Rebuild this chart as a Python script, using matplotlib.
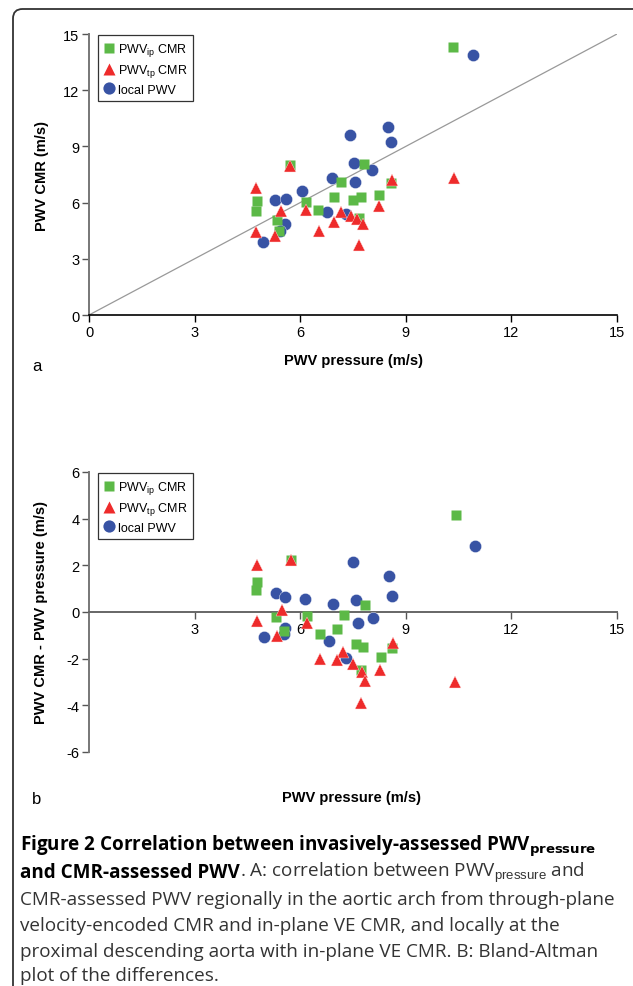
import matplotlib
matplotlib.use("Agg")
import matplotlib.pyplot as plt
from matplotlib.patches import FancyBboxPatch
from matplotlib.lines import Line2D

plt.rcParams['font.family'] = ['Liberation Sans', 'DejaVu Sans']
plt.rcParams['mathtext.fontset'] = 'custom'
plt.rcParams['mathtext.rm'] = 'Liberation Sans'
plt.rcParams['mathtext.it'] = 'Liberation Sans'
plt.rcParams['axes.unicode_minus'] = False

# ---------------- data: panel a ----------------
a_ip_x = [10.33, 5.71, 7.80, 7.16, 8.58, 4.76, 6.96, 7.49, 7.73, 8.24, 6.16, 6.50, 4.74, 5.34, 5.40, 7.67]
a_ip_y = [14.31, 8.01, 8.08, 7.12, 7.05, 6.10, 6.30, 6.16, 6.30, 6.41, 6.01, 5.62, 5.57, 5.07, 4.50, 5.16]
a_tp_x = [10.37, 5.71, 4.74, 8.60, 5.45, 6.16, 8.23, 7.15, 7.43, 7.60, 7.79, 6.97, 6.52, 4.74, 5.28, 7.67]
a_tp_y = [7.31, 7.97, 6.78, 7.22, 5.57, 5.61, 5.80, 5.48, 5.30, 5.13, 4.86, 4.95, 4.48, 4.41, 4.24, 3.74]
a_loc_x = [10.90, 8.49, 7.41, 8.58, 7.53, 8.03, 6.91, 7.57, 6.05, 5.29, 5.59, 6.77, 7.30, 5.58, 5.43, 4.94]
a_loc_y = [13.88, 10.02, 9.63, 9.25, 8.10, 7.74, 7.30, 7.10, 6.60, 6.16, 6.21, 5.48, 5.39, 4.88, 4.50, 3.88]
identity_x = [0, 15]
identity_y = [0, 15]

# ---------------- data: panel b ----------------
b_ip_x = [10.42, 5.73, 4.76, 4.74, 7.83, 5.30, 6.19, 7.24, 5.55, 6.55, 7.04, 7.58, 7.78, 8.60, 8.29, 7.73]
b_ip_y = [4.16, 2.24, 1.30, 0.96, 0.31, -0.23, -0.16, -0.13, -0.83, -0.94, -0.73, -1.37, -1.49, -1.54, -1.91, -2.47]
b_tp_x = [4.77, 5.73, 5.49, 4.78, 6.20, 5.33, 8.64, 7.23, 6.56, 7.04, 7.51, 7.75, 8.27, 7.85, 10.41, 7.74]
b_tp_y = [2.01, 2.24, 0.10, -0.39, -0.46, -1.03, -1.33, -1.73, -2.01, -2.06, -2.23, -2.59, -2.47, -2.94, -3.01, -3.91]
b_loc_x = [10.98, 7.50, 8.52, 5.30, 5.58, 8.61, 6.13, 7.58, 6.94, 8.08, 7.65, 5.58, 5.55, 4.96, 6.82, 7.30]
b_loc_y = [2.83, 2.16, 1.56, 0.81, 0.66, 0.70, 0.54, 0.51, 0.34, -0.26, -0.49, -0.70, -0.94, -1.07, -1.26, -1.96]

a_xticks = [0, 3, 6, 9, 12, 15]
a_yticks = [0, 3, 6, 9, 12, 15]
b_xticks = [3, 6, 9, 12, 15]
b_yticks = [-6, -4, -2, 0, 2, 4, 6]
labels = [r'PWV$_{\rm ip}$ CMR', r'PWV$_{\rm tp}$ CMR', 'local PWV']

GREEN = '#5cb947'
RED = '#ee2b2b'
BLUE = '#3853a4'

W, H = 633, 987
fig = plt.figure(figsize=(W / 100, H / 100), dpi=100)

def ax_px(l, t, r, b):
    return fig.add_axes([l / W, 1 - b / H, (r - l) / W, (b - t) / H])

# rounded frame
frame = FancyBboxPatch((13 / W, -0.05), 1.2, 1.05 - 10 / H,
                       boxstyle="round,pad=0,rounding_size=0.015",
                       transform=fig.transFigure, fill=False,
                       edgecolor='#333333', linewidth=1.3, mutation_aspect=W / H)
fig.patches.append(frame)

def draw_points(ax, ipx, ipy, tpx, tpy, lx, ly):
    ax.plot(lx, ly, 'o', color=BLUE, ms=8.8, mec='white', mew=0.3, zorder=3)
    ax.plot(ipx, ipy, 's', color=GREEN, ms=7.4, mec='none', zorder=4)
    ax.plot(tpx, tpy, '^', color=RED, ms=8.8, mec='#ffdddd', mew=0.3, zorder=5)

def add_legend(ax):
    handles = [Line2D([], [], marker='s', color=GREEN, ls='none', ms=7.4, mec='none'),
               Line2D([], [], marker='^', color=RED, ls='none', ms=8.8, mec='none'),
               Line2D([], [], marker='o', color=BLUE, ls='none', ms=8.8, mec='none')]
    leg = ax.legend(handles, labels, loc='upper left', bbox_to_anchor=(0.017, 0.995),
                    borderaxespad=0, fancybox=False, frameon=True, fontsize=9,
                    handlelength=0.8, handletextpad=0.35, labelspacing=0.35,
                    borderpad=0.45, edgecolor='black')
    leg.get_frame().set_linewidth(0.9)
    leg.set_zorder(10)

# ---------------- panel a ----------------
ax1 = ax_px(89, 35, 617, 316)
ax1.plot(identity_x, identity_y, color='#999999', lw=0.9, zorder=1)
draw_points(ax1, a_ip_x, a_ip_y, a_tp_x, a_tp_y, a_loc_x, a_loc_y)
ax1.set_xlim(0, 15)
ax1.set_ylim(0, 15)
ax1.set_xticks(a_xticks)
ax1.set_yticks(a_yticks)
for s in ['top', 'right']:
    ax1.spines[s].set_visible(False)
ax1.spines['left'].set_color('#777777')
ax1.spines['left'].set_linewidth(1.4)
ax1.spines['bottom'].set_color('black')
ax1.spines['bottom'].set_linewidth(1.2)
ax1.tick_params(axis='both', labelsize=10.5, length=5, width=1, direction='out', pad=2)
ax1.tick_params(axis='y', colors='#555555', labelcolor='black')
ax1.set_xlabel('PWV pressure (m/s)', fontsize=10.5, fontweight='bold', labelpad=10)
ax1.set_ylabel('PWV CMR (m/s)', fontsize=10.5, fontweight='bold', labelpad=10)
add_legend(ax1)
fig.text(37 / W, 1 - 367 / H, 'a', fontsize=12, ha='center', va='center')

# ---------------- panel b ----------------
ax2 = ax_px(89, 473, 617, 753)
draw_points(ax2, b_ip_x, b_ip_y, b_tp_x, b_tp_y, b_loc_x, b_loc_y)
ax2.set_xlim(0, 15)
ax2.set_ylim(-6, 6)
ax2.set_xticks(b_xticks)
ax2.set_yticks(b_yticks)
for s in ['top', 'right']:
    ax2.spines[s].set_visible(False)
ax2.spines['bottom'].set_position(('data', 0))
ax2.spines['bottom'].set_color('#666666')
ax2.spines['bottom'].set_linewidth(1.4)
ax2.spines['left'].set_color('#777777')
ax2.spines['left'].set_linewidth(1.4)
ax2.tick_params(axis='both', labelsize=10.5, length=5, width=1, direction='out', pad=2,
                colors='#555555', labelcolor='black')
ax2.set_ylabel('PWV CMR - PWV pressure (m/s)', fontsize=10.5, fontweight='bold', labelpad=13)
fig.text(352 / W, 1 - 798 / H, 'PWV pressure (m/s)', fontsize=10.5, fontweight='bold',
         ha='center', va='center')
add_legend(ax2)
fig.text(37 / W, 1 - 800 / H, 'b', fontsize=12, ha='center', va='center')

# ---------------- caption ----------------
cap_font = ['Open Sans', 'DejaVu Sans']
cx = 20 / W
fs = 13.6
ys = [846, 873, 900, 926, 952, 976]
fig.text(cx, 1 - ys[0] / H, r'Figure 2 Correlation between invasively-assessed PWV$_{\mathbf{pressure}}$',
         fontsize=fs, fontweight='bold', family=cap_font, va='center', ha='left')
t = fig.text(cx, 1 - ys[1] / H, 'and CMR-assessed PWV', fontsize=fs, fontweight='bold',
             family=cap_font, va='center', ha='left')
fig.canvas.draw()
bb = t.get_window_extent()
fig.text(bb.x1 / W, 1 - ys[1] / H, r'. A: correlation between PWV$_{\rm pressure}$ and',
         fontsize=fs, family=cap_font, va='center', ha='left', color='#333333')
cap_lines = ['CMR-assessed PWV regionally in the aortic arch from through-plane',
             'velocity-encoded CMR and in-plane VE CMR, and locally at the',
             'proximal descending aorta with in-plane VE CMR. B: Bland-Altman',
             'plot of the differences.']
for i, line in enumerate(cap_lines):
    fig.text(cx, 1 - ys[2 + i] / H, line, fontsize=fs, family=cap_font,
             va='center', ha='left', color='#333333')

fig.savefig('out.png', dpi=100)
